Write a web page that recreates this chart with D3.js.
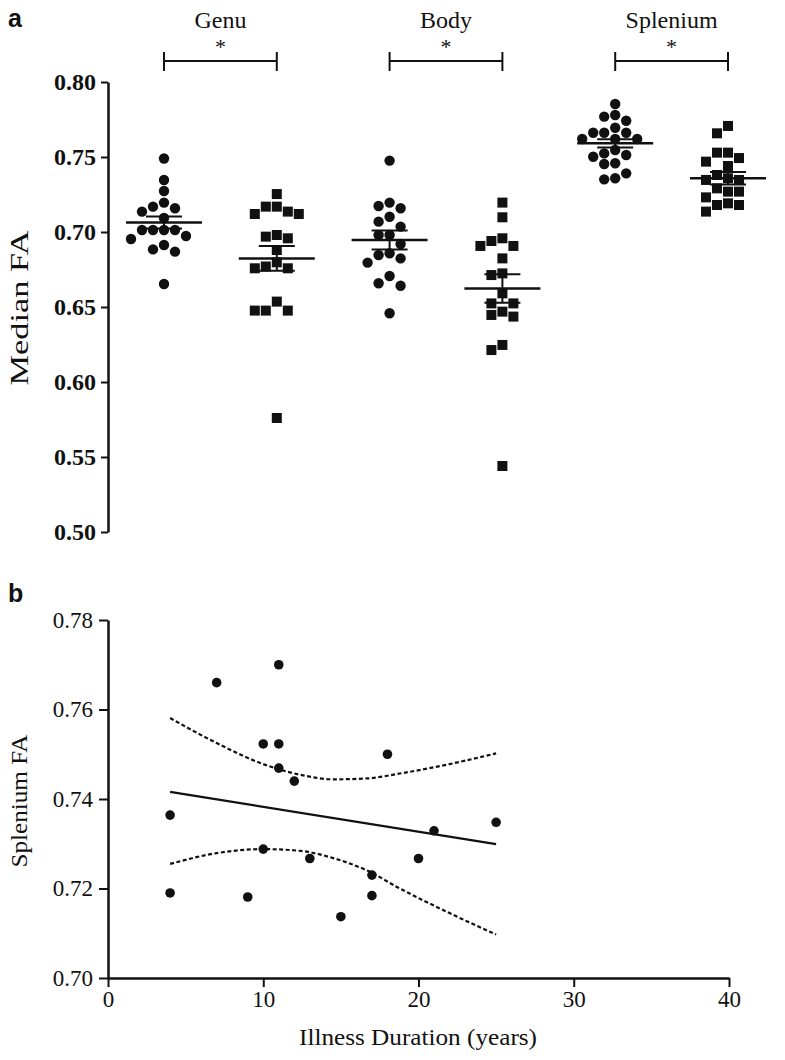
<!DOCTYPE html>
<html>
<head>
<meta charset="utf-8">
<script src="https://cdn.jsdelivr.net/npm/d3@7/dist/d3.min.js"></script>
<style>
  body { margin: 0; background: #fff; }
  svg text { font-family: "Liberation Serif", "DejaVu Serif", serif; fill: #111; }
</style>
</head>
<body>
<svg id="fig" width="785" height="1060"></svg>
<script>
// ---- data, panel a ----
var regions = ["Genu", "Body", "Splenium"];
var groups = ["Control", "Patient"];

var genu_ctrl = [0.749, 0.7347, 0.7273, 0.7196, 0.7158, 0.7169, 0.7136, 0.7093, 0.7013, 0.7013, 0.7013, 0.7013,
                 0.6953, 0.6973, 0.6913, 0.6884, 0.6869, 0.6653];
var genu_pat = [0.7253, 0.7169, 0.7169, 0.712, 0.712, 0.7136, 0.698, 0.6958, 0.6969, 0.688, 0.6798,
                0.677, 0.6758, 0.6758, 0.6536, 0.6476, 0.6476, 0.6476, 0.576];
var body_ctrl = [0.7476, 0.7196, 0.7158, 0.7173, 0.7102, 0.7069, 0.7036, 0.698, 0.698, 0.692,
                 0.6847, 0.6858, 0.6796, 0.6824, 0.6707, 0.6658, 0.6642, 0.6458];
var body_pat = [0.7196, 0.7098, 0.6958, 0.694, 0.6907, 0.6907, 0.6824, 0.6713, 0.6724, 0.6591,
                0.6524, 0.6524, 0.6469, 0.6436, 0.6447, 0.6247, 0.6213, 0.544];
var spl_ctrl = [0.7853, 0.778, 0.7769, 0.7742, 0.7695, 0.7662, 0.7662, 0.7662, 0.762, 0.762, 0.762,
                0.7547, 0.7513, 0.7502, 0.7524, 0.7458, 0.7453, 0.7391, 0.7351, 0.7358];
var spl_pat = [0.7707, 0.7658, 0.7529, 0.7529, 0.7493, 0.7469, 0.744, 0.738, 0.7358, 0.7347, 0.7347,
               0.7291, 0.7269, 0.7269, 0.7231, 0.718, 0.718, 0.7191, 0.7136];

var series_a = [genu_ctrl, genu_pat, body_ctrl, body_pat, spl_ctrl, spl_pat];
var means_a = [0.7064, 0.6824, 0.6947, 0.6624, 0.7591, 0.7358];
var sems_a  = [0.0040, 0.0083, 0.0063, 0.0095, 0.0028, 0.0042];
var ticks_a = [0.50, 0.55, 0.60, 0.65, 0.70, 0.75, 0.80];

// ---- data, panel b ----
var duration = [4, 4, 7, 9, 10, 10, 11, 11, 11, 12, 13, 15, 17, 17, 18, 20, 21, 25];
var spl_fa = [0.7364, 0.719, 0.766, 0.7181, 0.7523, 0.7288, 0.770, 0.7523, 0.7469, 0.744, 0.7267,
              0.7137, 0.723, 0.7184, 0.750, 0.7267, 0.7329, 0.7348];
var fit_x = [4, 25];
var fit_y = [0.7416, 0.7299];
var band_x = [4, 7, 10, 12.4, 14.5, 16.7, 18.8, 22, 25];
var band_hi = [0.7581, 0.7525, 0.7478, 0.7454, 0.7444, 0.7446, 0.7457, 0.7478, 0.7502];
var band_lo = [0.7255, 0.7279, 0.7288, 0.7284, 0.7268, 0.7240, 0.7200, 0.7145, 0.7097];
var ticks_bx = [0, 10, 20, 30, 40];
var ticks_by = [0.70, 0.72, 0.74, 0.76, 0.78];

var ink = "#111";
var svg = d3.select("#fig");

// ================= panel a =================
var keys = [];
regions.forEach(function(r){ groups.forEach(function(g){ keys.push(r + "-" + g); }); });

var xa = d3.scalePoint().domain(keys).range([164, 728]);
var ya = d3.scaleLinear().domain([0.50, 0.80]).range([532, 82]);

var axA = svg.append("g").attr("transform", "translate(108,0)")
  .call(d3.axisLeft(ya).tickValues(ticks_a).tickFormat(d3.format(".2f")).tickSize(7).tickSizeOuter(0));
axA.select(".domain").attr("stroke", ink).attr("stroke-width", 2.5);
axA.selectAll(".tick line").attr("stroke", ink).attr("stroke-width", 2);
axA.selectAll(".tick text").attr("x", -12).style("font-size", "24px").style("font-weight", "bold")
  .style("font-family", "'Liberation Serif', serif").attr("fill", ink);

svg.append("text").attr("transform", "translate(28,308) rotate(-90)")
  .attr("text-anchor", "middle").style("font-size", "25px")
  .attr("textLength", 155).attr("lengthAdjust", "spacingAndGlyphs")
  .text("Median FA");

svg.append("text").attr("x", 8).attr("y", 27)
  .style("font-family", "'Liberation Sans', Arial, sans-serif").style("font-weight", "bold").style("font-size", "25px")
  .text("a");

// region titles and significance brackets
regions.forEach(function(r){
  var x0 = xa(r + "-Control"), x1 = xa(r + "-Patient");
  var mid = (x0 + x1) / 2;
  svg.append("text").attr("x", mid).attr("y", 28).attr("text-anchor", "middle")
    .style("font-size", "24px").text(r);
  svg.append("text").attr("x", mid).attr("y", 54).attr("text-anchor", "middle")
    .style("font-size", "22px").text("*");
  var br = svg.append("g").attr("stroke", ink).attr("stroke-width", 2);
  br.append("line").attr("x1", x0).attr("x2", x1).attr("y1", 61).attr("y2", 61);
  br.append("line").attr("x1", x0).attr("x2", x0).attr("y1", 52).attr("y2", 71);
  br.append("line").attr("x1", x1).attr("x2", x1).attr("y1", 52).attr("y2", 71);
});

// simple beeswarm: dodge sideways until no overlap
function swarm(vals, cx, gap, diam) {
  var pts = vals.map(function(v){ return { v: v, y: ya(v) }; })
                .sort(function(a, b){ return a.y - b.y; });
  var placed = [];
  pts.forEach(function(p){
    for (var k = 0; k < 30; k++) {
      var off = k === 0 ? 0 : (k % 2 ? -1 : 1) * Math.ceil(k / 2);
      var px = cx + off * gap;
      var hit = placed.some(function(q){ return Math.hypot(q.x - px, q.y - p.y) < diam; });
      if (!hit) { p.x = px; placed.push(p); break; }
    }
  });
  return placed;
}

series_a.forEach(function(vals, i){
  var cx = xa(keys[i]);
  var pts = swarm(vals, cx, 11, 10.5);
  var g = svg.append("g");
  if (i % 2 === 0) {
    g.selectAll("circle").data(pts).enter().append("circle")
      .attr("cx", function(d){ return d.x; }).attr("cy", function(d){ return d.y; })
      .attr("r", 5.2).attr("fill", ink);
  } else {
    g.selectAll("rect").data(pts).enter().append("rect")
      .attr("x", function(d){ return d.x - 5; }).attr("y", function(d){ return d.y - 5; })
      .attr("width", 10).attr("height", 10).attr("fill", ink);
  }
  // mean and SEM
  var m = means_a[i], s = sems_a[i];
  var st = svg.append("g").attr("stroke", ink).attr("stroke-width", 2.5);
  st.append("line").attr("x1", cx - 38).attr("x2", cx + 38).attr("y1", ya(m)).attr("y2", ya(m));
  st.append("line").attr("x1", cx).attr("x2", cx).attr("y1", ya(m + s)).attr("y2", ya(m - s)).attr("stroke-width", 2);
  st.append("line").attr("x1", cx - 18).attr("x2", cx + 18).attr("y1", ya(m + s)).attr("y2", ya(m + s)).attr("stroke-width", 2);
  st.append("line").attr("x1", cx - 18).attr("x2", cx + 18).attr("y1", ya(m - s)).attr("y2", ya(m - s)).attr("stroke-width", 2);
});

// ================= panel b =================
var xb = d3.scaleLinear().domain([0, 40]).range([108, 729]);
var yb = d3.scaleLinear().domain([0.70, 0.78]).range([978, 620]);

var axBy = svg.append("g").attr("transform", "translate(108,0)")
  .call(d3.axisLeft(yb).tickValues(ticks_by).tickFormat(d3.format(".2f")).tickSize(9).tickSizeOuter(0));
var axBx = svg.append("g").attr("transform", "translate(0,978)")
  .call(d3.axisBottom(xb).tickValues(ticks_bx).tickSize(9).tickSizeOuter(0));
[axBy, axBx].forEach(function(ax){
  ax.select(".domain").attr("stroke", ink).attr("stroke-width", 2.5);
  ax.selectAll(".tick line").attr("stroke", ink).attr("stroke-width", 2);
  ax.selectAll(".tick text").style("font-size", "23px")
    .style("font-family", "'Liberation Serif', serif").attr("fill", ink);
});
axBy.selectAll(".tick text").attr("x", -15);
axBx.selectAll(".tick text").attr("y", 13);

svg.append("text").attr("transform", "translate(27,801) rotate(-90)")
  .attr("text-anchor", "middle").style("font-size", "23px")
  .attr("textLength", 133).attr("lengthAdjust", "spacingAndGlyphs")
  .text("Splenium FA");
svg.append("text").attr("x", 418).attr("y", 1045).attr("text-anchor", "middle")
  .style("font-size", "23px")
  .attr("textLength", 238).attr("lengthAdjust", "spacingAndGlyphs")
  .text("Illness Duration (years)");

svg.append("text").attr("x", 8).attr("y", 602)
  .style("font-family", "'Liberation Sans', Arial, sans-serif").style("font-weight", "bold").style("font-size", "25px")
  .text("b");

// confidence band and fit line
var bandLine = function(vals){
  return d3.line().curve(d3.curveMonotoneX)
    .x(function(d, i){ return xb(band_x[i]); })
    .y(function(d){ return yb(d); })(vals);
};
[band_hi, band_lo].forEach(function(vals){
  svg.append("path").attr("d", bandLine(vals)).attr("fill", "none")
    .attr("stroke", ink).attr("stroke-width", 2.2).attr("stroke-dasharray", "4,2.5");
});
svg.append("path")
  .attr("d", d3.line().x(function(d, i){ return xb(fit_x[i]); }).y(function(d){ return yb(d); })(fit_y))
  .attr("fill", "none").attr("stroke", ink).attr("stroke-width", 2.2);

svg.append("g").selectAll("circle").data(duration).enter().append("circle")
  .attr("cx", function(d){ return xb(d); })
  .attr("cy", function(d, i){ return yb(spl_fa[i]); })
  .attr("r", 4.8).attr("fill", ink);
</script>
</body>
</html>
